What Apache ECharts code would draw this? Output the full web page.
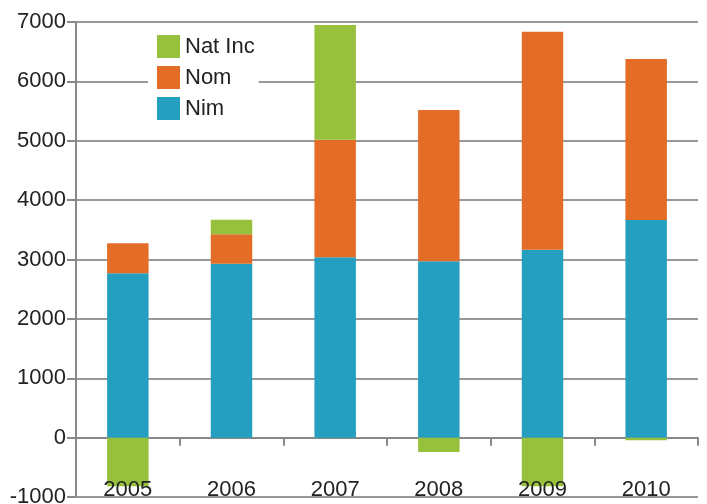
<!DOCTYPE html>
<html>
<head>
<meta charset="utf-8">
<script src="https://cdn.jsdelivr.net/npm/echarts@6/dist/echarts.min.js"></script>
<style>
  html, body { margin: 0; padding: 0; background: #fff; }
  #main { width: 707px; height: 504px; }
</style>
</head>
<body>
<div id="main"></div>
<script>
// data
var years = ['2005', '2006', '2007', '2008', '2009', '2010'];
var nim = [2770, 2930, 3040, 2970, 3165, 3665];
var nom = [505, 495, 1975, 2550, 3670, 2710];
var natInc = [-820, 245, 1935, -240, -820, -45];

var font = '"Liberation Sans", Arial, sans-serif';

var myChart = echarts.init(document.getElementById('main'));
var option = {
  animation: false,
  grid: { left: 76, right: 9, top: 22, bottom: 7, outerBoundsMode: 'none' },
  legend: {
    orient: 'vertical',
    left: 148,
    top: 28,
    backgroundColor: '#fff',
    padding: [7, 4, 7, 9],
    itemWidth: 23,
    itemHeight: 23,
    itemGap: 8,
    icon: 'rect',
    data: ['Nat Inc', 'Nom', 'Nim'],
    textStyle: { fontFamily: font, fontSize: 22, color: '#222', padding: [0, 0, 0, 0] }
  },
  xAxis: [
    {
      type: 'category',
      data: years,
      axisLine: { onZero: true, lineStyle: { color: '#888', width: 2 } },
      axisTick: { show: true, length: 8, lineStyle: { color: '#888', width: 2 } },
      axisLabel: { show: false }
    },
    {
      type: 'category',
      data: years,
      position: 'bottom',
      z: 10,
      axisLine: { show: false, onZero: false },
      axisTick: { show: false },
      axisLabel: { inside: true, margin: -4, fontFamily: font, fontSize: 22, color: '#222' }
    }
  ],
  yAxis: {
    type: 'value',
    min: -1000,
    max: 7000,
    interval: 1000,
    axisLine: { show: true, lineStyle: { color: '#888', width: 2 } },
    axisTick: { show: true, length: 9, lineStyle: { color: '#888', width: 2 } },
    axisLabel: {
      margin: 10, fontFamily: font, fontSize: 22, color: '#222',
      formatter: function (v) { return String(v); }
    },
    splitLine: { lineStyle: { color: '#999', width: 2 } }
  },
  series: [
    {
      name: 'Nim', type: 'bar', stack: 'total', barWidth: '40%',
      itemStyle: { color: '#259fbf' }, data: nim
    },
    {
      name: 'Nom', type: 'bar', stack: 'total', barWidth: '40%',
      itemStyle: { color: '#e36d26' }, data: nom
    },
    {
      name: 'Nat Inc', type: 'bar', stack: 'total', barWidth: '40%',
      itemStyle: { color: '#97c13d' }, data: natInc
    }
  ]
};
myChart.setOption(option);
</script>
</body>
</html>
